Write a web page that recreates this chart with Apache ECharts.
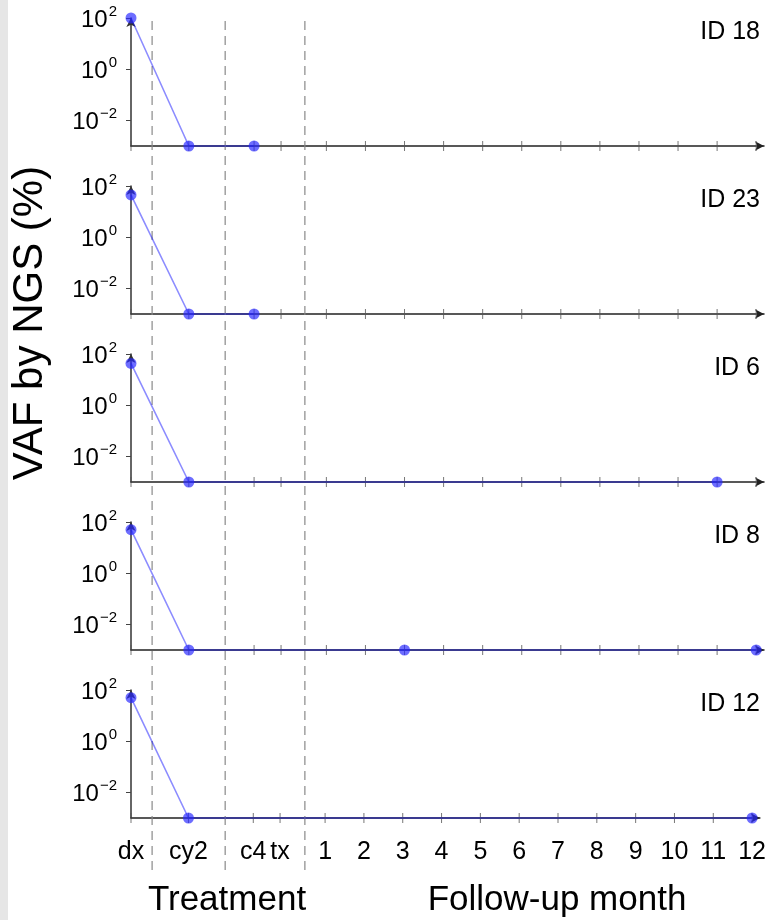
<!DOCTYPE html>
<html>
<head>
<meta charset="utf-8">
<script src="https://cdn.jsdelivr.net/npm/echarts@6/dist/echarts.min.js"></script>
<style>
  html, body { margin: 0; padding: 0; background: #fff; }
  #vaf-chart { width: 769px; height: 920px; }
</style>
</head>
<body>
<div id="vaf-chart"></div>
<script>
// time points along the x axis (treatment phase, then follow-up months)
const timepoints = ['dx', 'cy2', 'c4', 'tx', '1', '2', '3', '4', '5', '6', '7', '8', '9', '10', '11', '12'];
const timeAxisPos = [-4, -2.52, -0.85, -0.16, 1, 2, 3, 4, 5, 6, 7, 8, 9, 10, 11, 12];
const phaseDividers = [-3.46, -1.59, 0.45];

// not detected -> drawn on the axis floor
const ND = 0.001;

const panelIds = ['ID 18', 'ID 23', 'ID 6', 'ID 8', 'ID 12'];
const vafId18 = [100, ND, ND, null, null, null, null, null, null, null, null, null, null, null, null, null];
const vafId23 = [45, ND, ND, null, null, null, null, null, null, null, null, null, null, null, null, null];
const vafId6 = [43, ND, null, null, null, null, null, null, null, null, null, null, null, null, ND, null];
const vafId8 = [50, ND, null, null, null, null, ND, null, null, null, null, null, null, null, null, ND];
const vafId12 = [50, ND, null, null, null, null, null, null, null, null, null, null, null, null, null, ND];
const vafByPanel = [vafId18, vafId23, vafId6, vafId8, vafId12];

const yTicks = [0.01, 1, 100];
const yTickExponents = ['−2', '0', '2'];

const FONT = "'Liberation Sans', Arial, sans-serif";
const GRID_LEFT = 131;
const GRID_W = 633;
const GRID_TOP0 = 18;
const GRID_H = 128;
const PANEL_STEP = 168;
const X_MIN = -4;
const X_MAX = 12.2;

function labelFor(v) {
  let best = 0;
  timeAxisPos.forEach((p, i) => {
    if (Math.abs(p - v) < Math.abs(timeAxisPos[best] - v)) best = i;
  });
  return timepoints[best];
}

function powerLabel(v) {
  const i = yTicks.findIndex((t) => Math.abs(Math.log10(t) - Math.log10(v)) < 0.01);
  return '{b|10}{s|' + yTickExponents[i] + '}';
}

let chart = echarts.init(document.getElementById('vaf-chart'));

let grids = [];
let xAxes = [];
let yAxes = [];
let series = [];
let graphics = [
  { type: 'rect', left: 0, top: 0, shape: { width: 8, height: 920 }, style: { fill: '#e6e6e6' }, silent: true },
];

vafByPanel.forEach((vals, i) => {
  const top = GRID_TOP0 + PANEL_STEP * i;
  const last = i === vafByPanel.length - 1;
  grids.push({ left: GRID_LEFT, top: top, width: GRID_W, height: GRID_H });
  xAxes.push({
    type: 'value',
    gridIndex: i,
    min: X_MIN,
    max: X_MAX,
    splitLine: { show: false },
    axisLine: {
      onZero: false,
      lineStyle: { color: '#222', width: 1.5 },
      symbol: ['none', 'arrow'],
      symbolSize: [7, 9],
    },
    axisTick: { show: false },
    axisLabel: {
      show: last,
      customValues: timeAxisPos,
      formatter: (v) => labelFor(v),
      fontFamily: FONT,
      fontSize: 25,
      color: '#000',
      margin: 22,
    },
  });
  yAxes.push({
    type: 'log',
    logBase: 10,
    gridIndex: i,
    min: ND,
    max: 100,
    splitLine: { show: false },
    axisLine: {
      onZero: false,
      lineStyle: { color: '#333', width: 1.5 },
      symbol: ['none', 'arrow'],
      symbolSize: [7, 9],
    },
    axisTick: {
      show: true,
      customValues: yTicks,
      length: 5,
      lineStyle: { color: '#444' },
    },
    axisLabel: {
      customValues: yTicks,
      formatter: powerLabel,
      color: '#000',
      margin: 14,
      rich: {
        b: { fontFamily: FONT, fontSize: 24, color: '#000', lineHeight: 28, verticalAlign: 'bottom' },
        s: { fontFamily: FONT, fontSize: 15, color: '#000', lineHeight: 28, verticalAlign: 'top', padding: [0, 0, 0, 1] },
      },
    },
  });
  // tick marks crossing the time axis at every sampling point
  series.push({
    type: 'scatter',
    xAxisIndex: i,
    yAxisIndex: i,
    z: 3,
    silent: true,
    clip: false,
    symbol: 'rect',
    symbolSize: [1, 10],
    itemStyle: { color: '#555' },
    data: timeAxisPos.map((x) => [x, ND]),
    animation: false,
  });
  series.push({
    type: 'line',
    xAxisIndex: i,
    yAxisIndex: i,
    z: 5,
    clip: false,
    data: timeAxisPos.map((x, j) => [x, vals[j]]).filter((d) => d[1] != null),
    symbol: 'circle',
    symbolSize: 11,
    itemStyle: { color: 'rgba(40,40,255,0.68)' },
    lineStyle: { color: 'rgba(0,0,255,0.45)', width: 1.6 },
    animation: false,
  });
  graphics.push({
    type: 'text',
    right: 9,
    top: top + 2,
    style: { text: panelIds[i], font: '25px ' + FONT, fill: '#000' },
  });
});

// overlay grid for the dashed phase dividers spanning all panels
const overlay = vafByPanel.length;
grids.push({ left: GRID_LEFT, top: 20, width: GRID_W, height: 850 });
xAxes.push({ type: 'value', gridIndex: overlay, min: X_MIN, max: X_MAX, show: false });
yAxes.push({ type: 'value', gridIndex: overlay, min: 0, max: 1, show: false });
phaseDividers.forEach((x) => {
  series.push({
    type: 'line',
    xAxisIndex: overlay,
    yAxisIndex: overlay,
    z: 1,
    silent: true,
    symbol: 'none',
    data: [[x, 0], [x, 1]],
    lineStyle: { color: '#888', width: 1.2, type: [9, 6] },
    animation: false,
  });
});

graphics.push(
  {
    type: 'text',
    x: 30,
    y: 323,
    rotation: Math.PI / 2,
    style: { text: 'VAF by NGS (%)', font: '42px ' + FONT, fill: '#000', align: 'center', verticalAlign: 'middle' },
  },
  {
    type: 'text',
    x: 227,
    y: 900,
    style: { text: 'Treatment', font: '35px ' + FONT, fill: '#000', align: 'center', verticalAlign: 'middle' },
  },
  {
    type: 'text',
    x: 557,
    y: 900,
    style: { text: 'Follow-up month', font: '35px ' + FONT, fill: '#000', align: 'center', verticalAlign: 'middle' },
  }
);

let option = {
  backgroundColor: '#fff',
  animation: false,
  grid: grids,
  xAxis: xAxes,
  yAxis: yAxes,
  series: series,
  graphic: graphics,
};

option && chart.setOption(option);
</script>
</body>
</html>
